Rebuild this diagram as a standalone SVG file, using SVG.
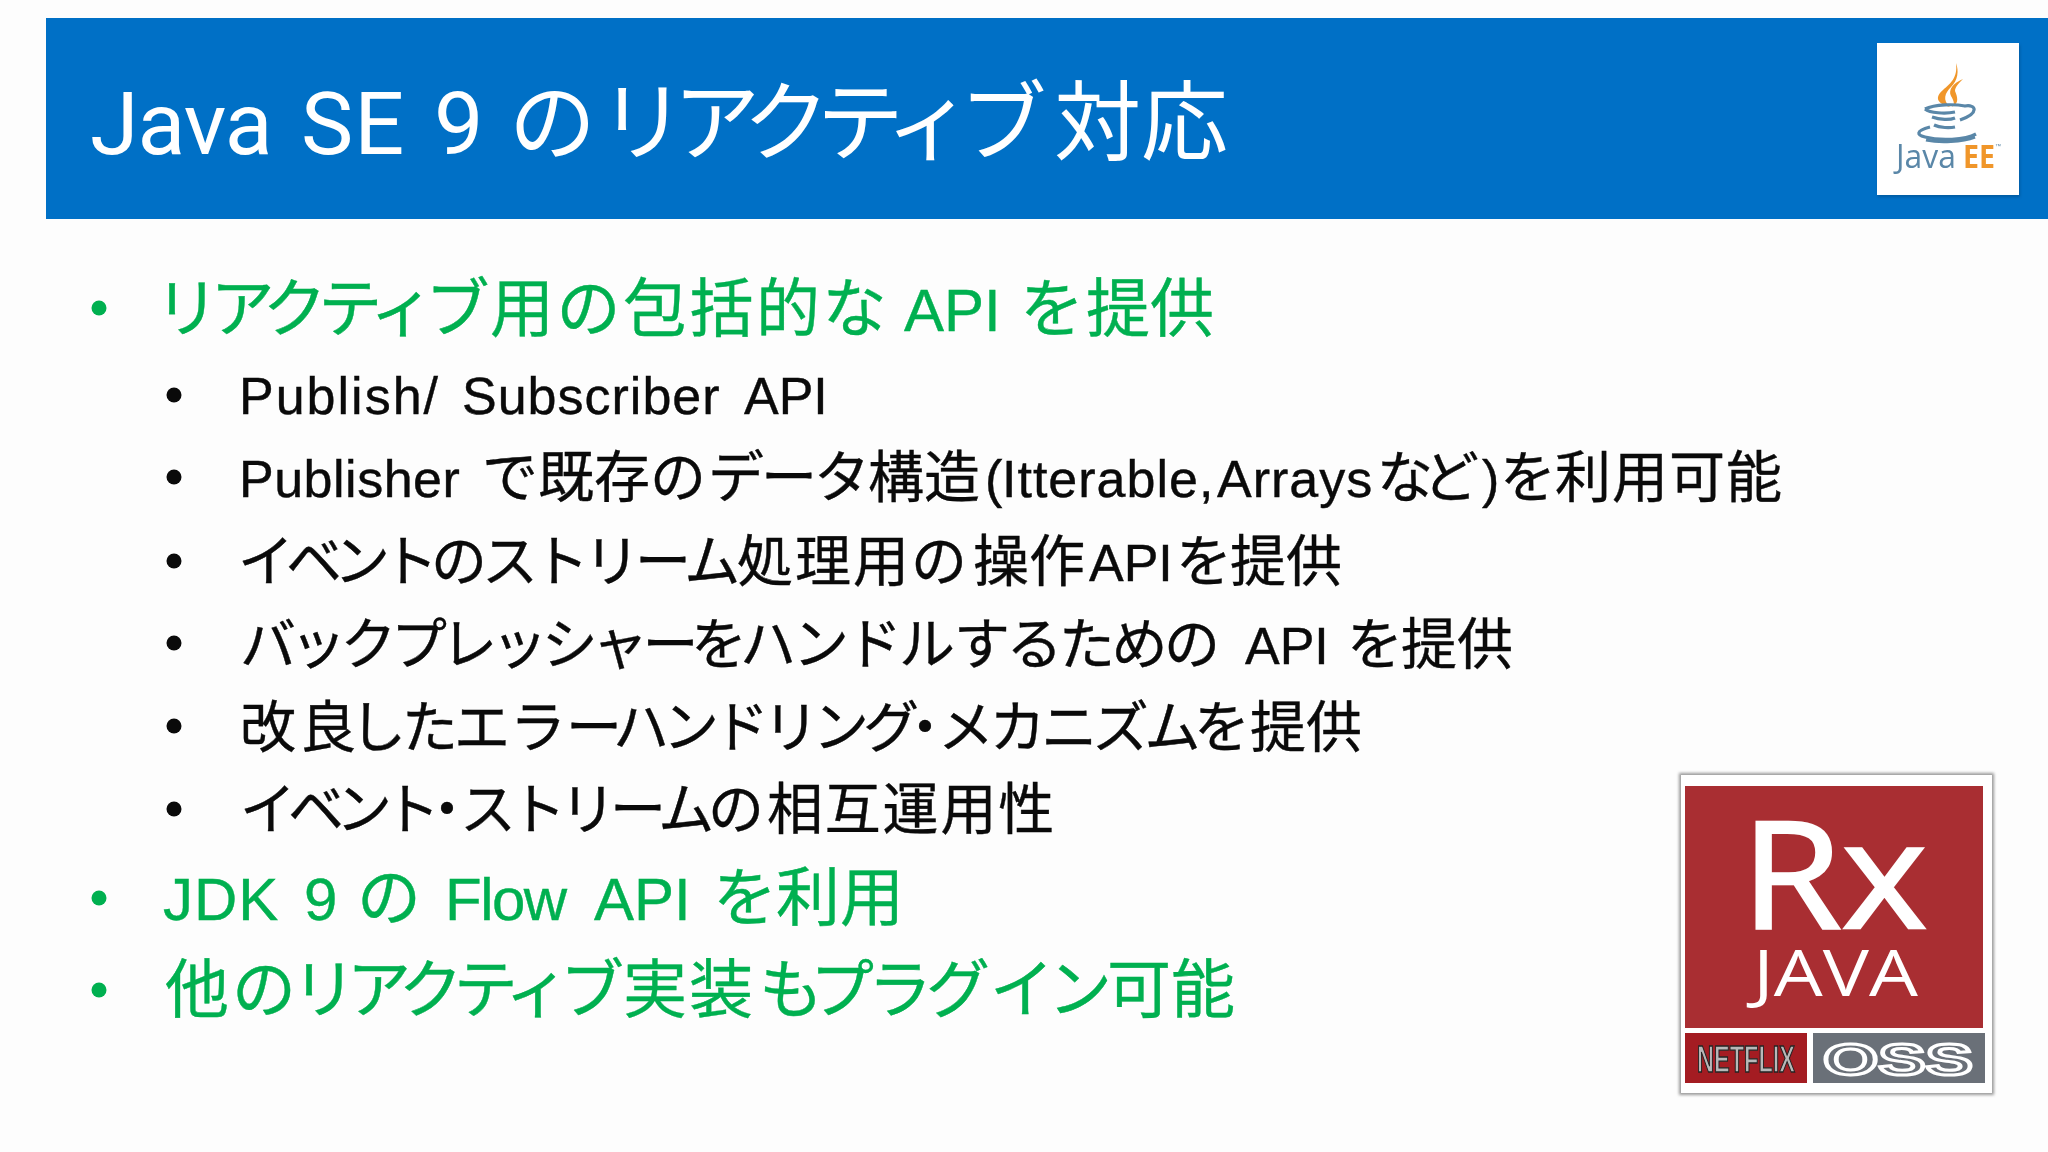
<svg xmlns="http://www.w3.org/2000/svg" width="2048" height="1152" viewBox="0 0 2048 1152">
<defs>
<style>
text{font-family:"Liberation Sans","Noto Sans CJK JP",sans-serif}
.g{font-size:64px;fill:#00b050;stroke:#00b050;stroke-width:.4}
.g .a{font-size:60px}
.k{font-size:56px;fill:#0a0a0a;stroke:#0a0a0a;stroke-width:.4}
.k .a{font-size:52px}
.t{font-size:87px;fill:#fff}
.t .a{font-family:Roboto,"Liberation Sans",sans-serif;font-size:88px}
.logo{font-family:"Open Sans","Liberation Sans",sans-serif}
.bg{fill:#00b050}
.bk{fill:#0a0a0a}
.cup{fill:none;stroke:#5a87a8;stroke-width:3.2}
</style>
<filter id="soft" x="-5%" y="-5%" width="110%" height="110%"><feGaussianBlur stdDeviation="0.7"/></filter>
<filter id="sh" x="-5%" y="-5%" width="110%" height="110%"><feGaussianBlur stdDeviation="1.5"/></filter>
</defs>
<rect width="2048" height="1152" fill="#fdfdfd"/>
<g id="title-band">
<rect x="46" y="18" width="2002" height="201" fill="#0070c6"/>
<text class="t" y="154"><tspan class="a" x="90" letter-spacing="-1">Java </tspan><tspan class="a" x="301" letter-spacing="1">SE </tspan><tspan class="a" x="434">9 </tspan><tspan x="509">の</tspan><tspan x="599" letter-spacing="-13">リアクティブ</tspan><tspan x="1054">対応</tspan></text>
</g>
<g id="javaee-logo">
<rect x="1878" y="45" width="142" height="152" fill="#00447a" opacity=".5" filter="url(#sh)"/>
<rect x="1877" y="43" width="142" height="152" fill="#fff"/>
<g filter="url(#soft)">
<path d="M1956 63C1958 78 1950 84 1943 90C1935 97 1936 103 1950 107C1942 100 1945 93 1951 87C1958 80 1959 71 1956 63Z" fill="#f0962a"/>
<path d="M1963 79C1953 83 1948 90 1951 96C1954 101 1955 104 1952 107C1960 103 1957 96 1955 91C1955 87 1959 83 1963 79Z" fill="#f0962a"/>
<path class="cup" d="M1925 109C1935 104 1955 104 1965 106C1976 104 1980 113 1960 120"/>
<path class="cup" d="M1925 109C1930 113 1945 114 1955 112"/>
<path class="cup" d="M1932 117C1940 120 1950 120 1955 118"/>
<path class="cup" d="M1934 125C1940 128 1950 128 1955 127"/>
<path class="cup" d="M1930 127C1915 131 1917 135 1925 137C1940 141 1965 140 1976 134"/>
<path class="cup" d="M1926 140C1940 143 1962 142 1975 137" stroke-width="2"/>
<text class="logo" x="1896" y="168" font-size="33" fill="#5a87a8" textLength="60" lengthAdjust="spacingAndGlyphs">Java</text>
<text class="logo" x="1963" y="168" font-size="33" font-weight="700" fill="#f0962a" textLength="32" lengthAdjust="spacingAndGlyphs">EE</text>
<text x="1995" y="148" font-size="6" fill="#5a87a8">™</text>
</g>
</g>
<g id="body-text">
<circle class="bg" cx="99" cy="308" r="7.5"/>
<text class="g" y="331"><tspan x="155" letter-spacing="-8.5">リアクティブ</tspan><tspan x="490" letter-spacing="2.5">用の包括的な </tspan><tspan class="a" x="904">API </tspan><tspan x="1020">を</tspan><tspan x="1086">提供</tspan></text>
<circle class="bk" cx="174" cy="395" r="7.5"/>
<text class="k" y="414"><tspan class="a" x="239" letter-spacing="2">Publish/ </tspan><tspan class="a" x="462" letter-spacing="1">Subscriber </tspan><tspan class="a" x="744">API</tspan></text>
<circle class="bk" cx="174" cy="477" r="7.5"/>
<text class="k" y="497"><tspan class="a" x="239" letter-spacing=".5">Publisher </tspan><tspan x="482">で既存の</tspan><tspan x="708" letter-spacing="-3">データ</tspan><tspan x="868">構造</tspan><tspan class="a" x="985">(</tspan><tspan class="a" x="1002" letter-spacing="1">Itterable,</tspan><tspan class="a" x="1217" letter-spacing="1">Arrays</tspan><tspan x="1377" letter-spacing="-10">など</tspan><tspan class="a" x="1482">)</tspan><tspan x="1500">を</tspan><tspan x="1555" letter-spacing="1">利用可能</tspan></text>
<circle class="bk" cx="174" cy="561" r="7.5"/>
<text class="k" y="581"><tspan x="238" letter-spacing="-8">イベント</tspan><tspan x="431">の</tspan><tspan x="482" letter-spacing="-5">ストリーム</tspan><tspan x="737" letter-spacing="2">処理用の</tspan><tspan x="973">操作</tspan><tspan class="a" x="1089">API</tspan><tspan x="1176">を</tspan><tspan x="1230">提供</tspan></text>
<circle class="bk" cx="174" cy="643" r="7.5"/>
<text class="k" y="664"><tspan x="240" letter-spacing="-5.7">バックプレッシャー</tspan><tspan x="691">を</tspan><tspan x="740" letter-spacing="-3">ハンドル</tspan><tspan x="954" letter-spacing="-3.5">するための </tspan><tspan class="a" x="1245">API </tspan><tspan x="1347">を</tspan><tspan x="1401">提供</tspan></text>
<circle class="bk" cx="174" cy="726" r="7.5"/>
<text class="k" y="747"><tspan x="240" letter-spacing="4">改良</tspan><tspan x="350" letter-spacing="-4">した</tspan><tspan x="454">エラー</tspan><tspan x="613" letter-spacing="-6">ハンドリング</tspan><tspan x="897">・</tspan><tspan x="938" letter-spacing="-4.4">メカニズム</tspan><tspan x="1194">を</tspan><tspan x="1250">提供</tspan></text>
<circle class="bk" cx="174" cy="809" r="7.5"/>
<text class="k" y="829"><tspan x="240" letter-spacing="-8">イベント</tspan><tspan x="419">・</tspan><tspan x="460" letter-spacing="-6">ストリーム</tspan><tspan x="708">の</tspan><tspan x="767" letter-spacing="1.8">相互運用性</tspan></text>
<circle class="bg" cx="99" cy="898" r="7.5"/>
<text class="g" y="920"><tspan class="a" x="163" letter-spacing="1">JDK </tspan><tspan class="a" x="304">9 </tspan><tspan x="357">の </tspan><tspan class="a" x="445" letter-spacing="-1.5">Flow </tspan><tspan class="a" x="594">API </tspan><tspan x="713">を</tspan><tspan x="776">利用</tspan></text>
<circle class="bg" cx="99" cy="990" r="7.5"/>
<text class="g" y="1012"><tspan x="165" letter-spacing="3">他の</tspan><tspan x="292" letter-spacing="-9">リアクティブ</tspan><tspan x="623" letter-spacing="2">実装</tspan><tspan x="759">も</tspan><tspan x="810" letter-spacing="-6">プラグ</tspan><tspan x="990" letter-spacing="-6">イン</tspan><tspan x="1107">可能</tspan></text>
</g>
<g id="rxjava-logo">
<rect x="1679" y="773" width="315" height="322" fill="#9a9a9a" filter="url(#sh)"/>
<rect x="1681" y="775" width="311" height="318" fill="#fff"/>
<g filter="url(#soft)">
<rect x="1685" y="786" width="298" height="242" fill="#a92e31"/>
<rect x="1685" y="1033" width="122" height="50" fill="#a41f22"/>
<rect x="1813" y="1033" width="172" height="50" fill="#6a7078"/>
<text class="logo" x="1741" y="928" font-size="148" fill="#fff" stroke="#fff" stroke-width="2.5" textLength="186" lengthAdjust="spacingAndGlyphs">Rx</text>
<text class="logo" x="1753" y="996" font-size="64" fill="#fff" textLength="165" lengthAdjust="spacingAndGlyphs">JAVA</text>
<text x="1697" y="1072" font-size="36" font-weight="700" fill="#b8b8b8" stroke="#222" stroke-width="1.4" textLength="98" lengthAdjust="spacingAndGlyphs">NETFLIX</text>
<text x="1823" y="1075" font-size="44" font-weight="700" fill="none" stroke="#fff" stroke-width="3" textLength="150" lengthAdjust="spacingAndGlyphs">OSS</text>
</g>
</g>
</svg>
